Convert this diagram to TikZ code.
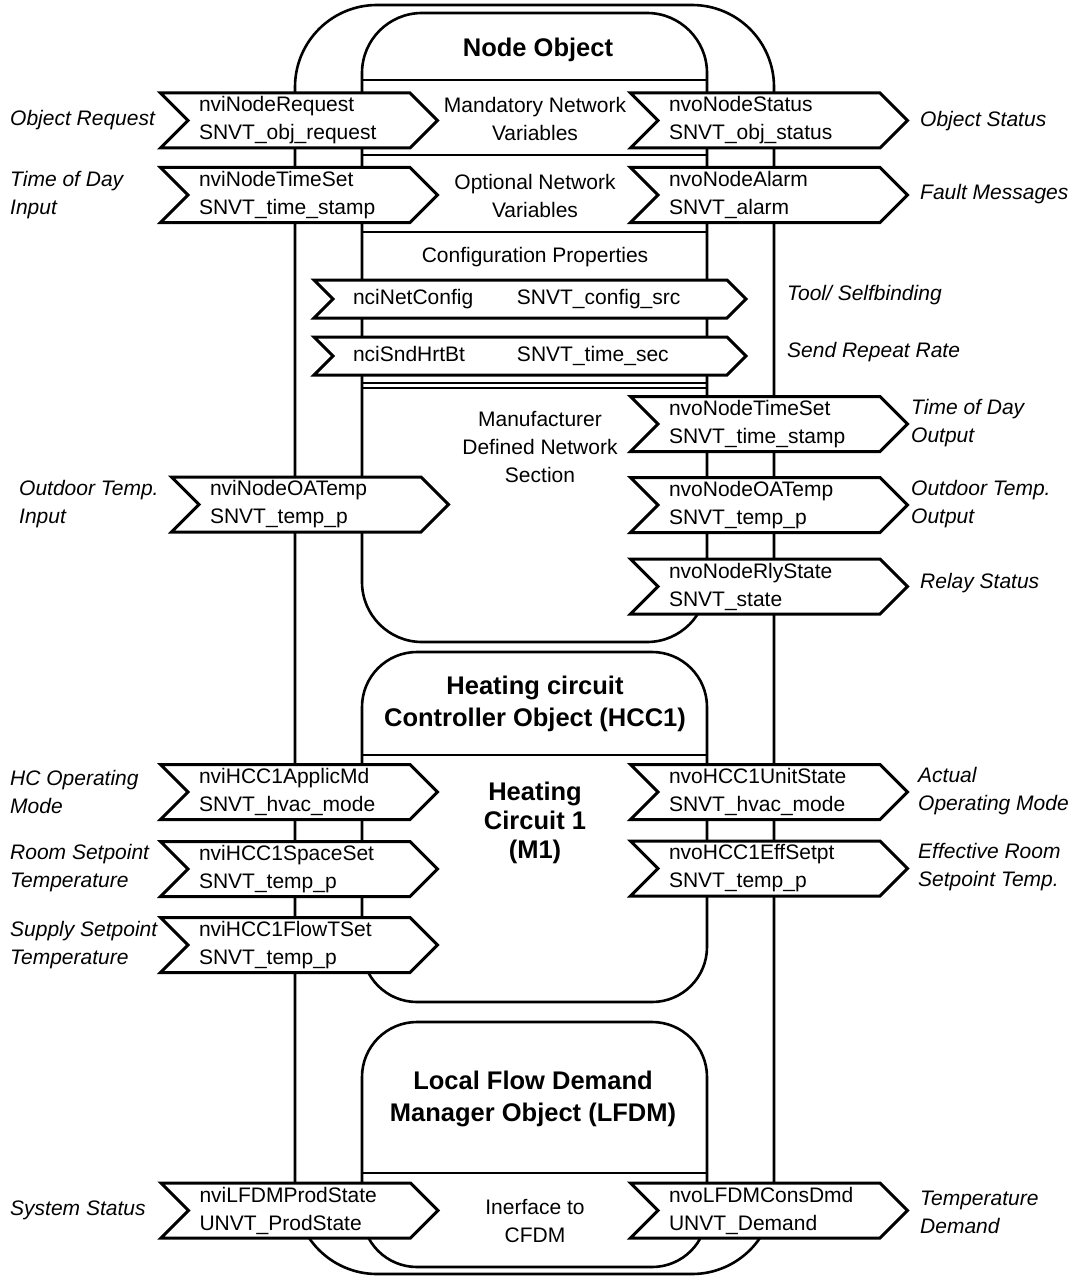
\documentclass[tikz,border=0pt]{standalone}
\usepackage{fontspec}
\setmainfont{Liberation Sans}
\usetikzlibrary{shapes.symbols, positioning}
\tikzset{
  objbox/.style={draw, line width=2.6pt, rounded corners=60pt},
  outbox/.style={draw, line width=2.6pt, rounded corners=82pt},
  secline/.style={line width=2.6pt},
  nvbox/.style={signal, signal from=west, signal to=east, draw=black, fill=white,
                line width=3pt, text width=200pt, inner xsep=11pt, inner ysep=0pt,
                minimum height=55pt, align=left, font=\fontsize{21}{28}\selectfont},
  ncibox/.style={nvbox, text width=354pt, inner xsep=20pt, minimum height=38pt},
  lbl/.style={anchor=west, inner sep=0pt, align=left, font=\fontsize{21}{28}\selectfont\itshape},
  sect/.style={align=center, inner sep=0pt, font=\fontsize{21}{28}\selectfont},
  hdr/.style={align=center, inner sep=0pt, font=\fontsize{25.5}{32}\selectfont\bfseries},
}
\begin{document}
\begin{tikzpicture}[x=1pt, y=-1pt]
  \useasboundingbox (0,0) rectangle (1073,1276);

  %% object frames
  \draw[outbox] (295,5) rectangle (774,1274);
  \draw[objbox] (362,13) rectangle (707,642);
  \draw[objbox, rounded corners=55pt] (362,652) rectangle (707,1002);
  \draw[objbox, rounded corners=55pt] (362,1022) rectangle (707,1267);

  %% section lines
  \draw[secline] (362,80) -- (707,80);
  \draw[secline] (362,155) -- (707,155);
  \draw[secline] (362,232) -- (707,232);
  \draw[line width=1.6pt] (362,383) -- (707,383);
  \draw[secline] (362,388) -- (707,388);
  \draw[secline] (362,755) -- (707,755);
  \draw[secline] (362,1173) -- (707,1173);

  %% Node Object
  \node[hdr] (nodehdr) at (538,50) {Node Object};
  \node[sect] (mandnv) at (535,119) {Mandatory Network\\Variables};
  \node[sect] (optnv) at (535,196) {Optional Network\\Variables};
  \node[sect] (cfgprop) at (535,257.5) {Configuration Properties};
  \node[sect] (mfdnv) at (540,447.5) {Manufacturer\\Defined Network\\Section};

  \node[nvbox] (nvireq) at (299,120.5) {nviNodeRequest\\SNVT\_obj\_request};
  \node[nvbox] (nvitime) at (299,195) {nviNodeTimeSet\\SNVT\_time\_stamp};
  \node[nvbox] (nvioat) at (310,504.5) {nviNodeOATemp\\SNVT\_temp\_p};
  \node[nvbox] (nvostat) at (769,120.5) {nvoNodeStatus\\SNVT\_obj\_status};
  \node[nvbox] (nvoalarm) at (769,195) {nvoNodeAlarm\\SNVT\_alarm};
  \node[nvbox] (nvotime) at (769,424) {nvoNodeTimeSet\\SNVT\_time\_stamp};
  \node[nvbox] (nvooat) at (769,505) {nvoNodeOATemp\\SNVT\_temp\_p};
  \node[nvbox] (nvorly) at (769,586.5) {nvoNodeRlyState\\SNVT\_state};
  \node[ncibox] (ncicfg) at (530,299) {\makebox[164pt][l]{nciNetConfig}SNVT\_config\_src};
  \node[ncibox] (ncihrt) at (530,356) {\makebox[164pt][l]{nciSndHrtBt}SNVT\_time\_sec};

  %% Heating circuit object
  \node[hdr] (hcchdr) at (535,704) {Heating circuit\\Controller Object (HCC1)};
  \node[hdr, font=\fontsize{25.5}{29}\selectfont\bfseries] (hccm1) at (535,823) {Heating\\Circuit 1\\(M1)};

  \node[nvbox] (nviapp) at (299,792) {nviHCC1ApplicMd\\SNVT\_hvac\_mode};
  \node[nvbox] (nvispace) at (299,869) {nviHCC1SpaceSet\\SNVT\_temp\_p};
  \node[nvbox] (nviflow) at (299,945) {nviHCC1FlowTSet\\SNVT\_temp\_p};
  \node[nvbox] (nvounit) at (769,792) {nvoHCC1UnitState\\SNVT\_hvac\_mode};
  \node[nvbox] (nvoeff) at (769,868.5) {nvoHCC1EffSetpt\\SNVT\_temp\_p};

  %% Local flow demand manager
  \node[hdr] (lfdmhdr) at (533,1098.5) {Local Flow Demand\\Manager Object (LFDM)};
  \node[sect] (cfdm) at (535,1221) {Inerface to\\CFDM};
  \node[nvbox] (nviprod) at (299.5,1210.5) {nviLFDMProdState\\UNVT\_ProdState};
  \node[nvbox] (nvodmd) at (769,1210.5) {nvoLFDMConsDmd\\UNVT\_Demand};

  %% inputs
  \node[lbl] (lreq) at (10,120.5) {Object Request};
  \node[lbl] (ltime) at (10,195) {Time of Day\\Input};
  \node[lbl] (loat) at (19,504) {Outdoor Temp.\\Input};
  \node[lbl] (lapp) at (10,792) {HC Operating\\Mode};
  \node[lbl] (lspace) at (10,868) {Room Setpoint\\Temperature};
  \node[lbl] (lflow) at (10,945) {Supply Setpoint\\Temperature};
  \node[lbl] (lprod) at (10,1210) {System Status};

  %% outputs
  \node[lbl] (lstat) at (920,121) {Object Status};
  \node[lbl] (lalarm) at (920,194.5) {Fault Messages};
  \node[lbl] (lcfg) at (787,295) {Tool/ Selfbinding};
  \node[lbl] (lhrt) at (787,352) {Send Repeat Rate};
  \node[lbl] (lotime) at (911,423.5) {Time of Day\\Output};
  \node[lbl] (looat) at (911,504.5) {Outdoor Temp.\\Output};
  \node[lbl] (lrly) at (920,583.5) {Relay Status};
  \node[lbl] (lunit) at (918,791.5) {Actual\\Operating Mode};
  \node[lbl] (leff) at (918,867.5) {Effective Room\\Setpoint Temp.};
  \node[lbl] (ldmd) at (920,1212) {Temperature\\Demand};

\end{tikzpicture}
\end{document}
